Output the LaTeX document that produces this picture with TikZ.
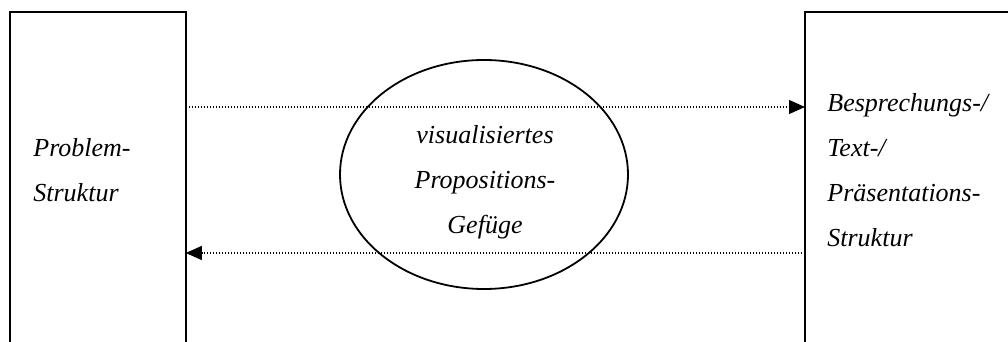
\documentclass[tikz,border=0pt]{standalone}
\usepackage{fontspec}
\setmainfont{Liberation Serif}
\usetikzlibrary{arrows.meta,shapes.geometric}
\begin{document}
\begin{tikzpicture}[x=0.5pt,y=-0.5pt,
  frame/.style={line width=1pt},
  flow/.style={line width=0.6pt, dash pattern=on 0.6pt off 0.9pt,
    -{Triangle[length=8pt,width=7pt]}},
  label/.style={font=\fontsize{13pt}{22.5pt}\selectfont\itshape, inner sep=0pt, align=left},
  slot/.style={draw=none, inner sep=0pt, anchor=north west, minimum height=165pt}]
\useasboundingbox (0,0) rectangle (1008,342);

% the two structure blocks, open at the lower (and right) page edge
\node[slot, minimum width=87.5pt] (lbox) at (10,12) {};
\node[slot, minimum width=101.5pt] (rbox) at (805,12) {};
\draw[frame] (lbox.south west) -- (lbox.north west) -- (lbox.north east) -- (lbox.south east);
\draw[frame] (rbox.south west) -- (rbox.north west) -- (rbox.north east);

% central ellipse
\node[draw, ellipse, line width=0.9pt, minimum width=144pt, minimum height=114.5pt, inner sep=0pt] (mid) at (484,174.5) {};
\node[label, align=center] (midtext) at (485,182) {visualisiertes\\Propositions-\\Gefüge};

% block labels
\node[label, anchor=west] (ltext) at (33,170) {Problem-\\Struktur};
\node[label, anchor=west] (rtext) at (827,170) {Besprechungs-/\\Text-/\\Präsentations-\\Struktur};

% dotted connectors
\coordinate (upper) at (0,107);
\coordinate (lower) at (0,253);
\draw[flow] (lbox.east |- upper) -- (rbox.west |- upper);
\draw[flow] (rbox.west |- lower) -- (lbox.east |- lower);
\end{tikzpicture}
\end{document}
